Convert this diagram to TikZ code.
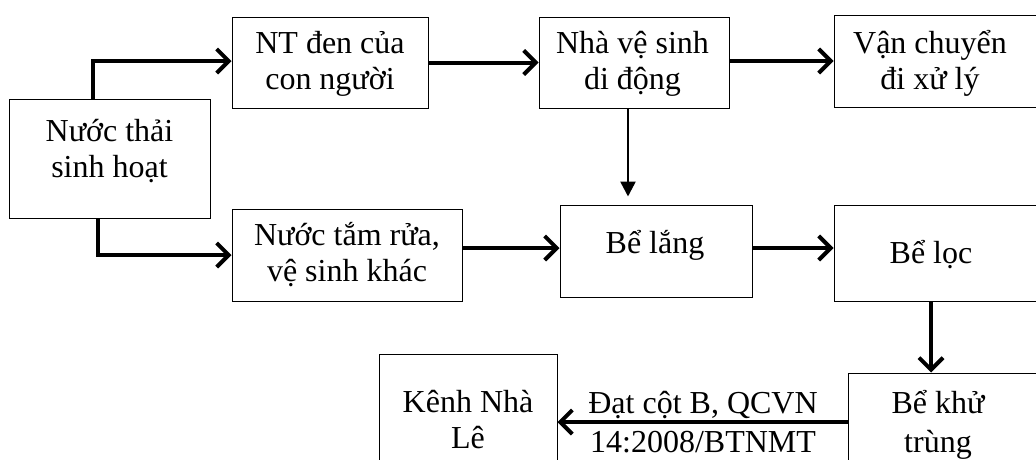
\documentclass[tikz,border=0pt]{standalone}
\usepackage{fontspec}
\setmainfont{Liberation Serif}
\usetikzlibrary{arrows.meta,calc}
\begin{document}
\begin{tikzpicture}[x=1pt,y=-1pt,
  box/.style={draw,line width=1pt,inner sep=0pt},
  txt/.style={align=center,font=\fontsize{32}{36}\selectfont,inner sep=0pt},
  flow/.style={line width=4pt,-{Straight Barb[length=12pt,width=24pt]}},
  thinflow/.style={line width=2.5pt,-{Triangle[length=15pt,width=15pt]}}]
\useasboundingbox (0,0) rectangle (1036,459);
\clip (0,0) rectangle (1036,459);
% boxes
\node[box,minimum width=201pt,minimum height=119pt] (src) at (109.5,158.5) {};
\node[box,minimum width=196pt,minimum height=91pt] (nt) at (330,62.5) {};
\node[box,minimum width=190pt,minimum height=91pt] (nvs) at (634,62.5) {};
\node[box,minimum width=211pt,minimum height=92pt] (vc) at (939.5,61) {};
\node[box,minimum width=230pt,minimum height=92pt] (nt2) at (347,255) {};
\node[box,minimum width=192pt,minimum height=92pt] (bl) at (656,251) {};
\node[box,minimum width=211pt,minimum height=96pt] (loc) at (939.5,253) {};
\node[box,minimum width=197pt,minimum height=107pt] (kt) at (946.5,426.5) {};
\node[box,minimum width=178pt,minimum height=126pt] (kenh) at (468,417) {};
% texts
\node[txt] (src-t) at (109.5,151) {Nước thải\\sinh hoạt};
\node[txt] (nt-t) at (330,64) {NT đen của\\con người};
\node[txt] (nvs-t) at (632.5,64) {Nhà vệ sinh\\di động};
\node[txt] (vc-t) at (930,63) {Vận chuyển\\đi xử lý};
\node[txt] (nt2-t) at (347,255) {Nước tắm rửa,\\vệ sinh khác};
\node[txt] (bl-t) at (655,245) {Bể lắng};
\node[txt] (loc-t) at (931,255) {Bể lọc};
\node[txt,font=\fontsize{32}{39}\selectfont] (kt-t) at (938,425) {Bể khử\\trùng};
\node[txt] (kenh-t) at (468,420) {Kênh Nhà\\Lê};
\node[txt,font=\fontsize{32}{39}\selectfont] (lab) at (703,422) {Đạt cột B, QCVN\\14:2008/BTNMT};
% connectors
\draw[flow] ([xshift=-16.5pt]src.north) |- ([yshift=1.5pt]nt.west);
\draw[flow] ([xshift=-11.5pt]src.south) |- (nt2.west);
\draw[flow] (nt.east) -- (nvs.west);
\draw[flow] ([yshift=1.5pt]nvs.east) -- ([yshift=1.5pt]nvs.east -| vc.west);
\draw[thinflow,shorten >=8pt] ([xshift=-6pt]nvs.south) -- ([xshift=-6pt]nvs.south |- bl.north);
\draw[flow] ([yshift=3pt]nt2.east |- bl.west) -- ([yshift=3pt]bl.west);
\draw[flow] ([yshift=3pt]bl.east) -- ([yshift=3pt]bl.east -| loc.west);
\draw[flow] (loc.south -| loc-t) -- (kt.north -| loc-t);
\draw[flow] (kt.west |- lab) -- (kenh.east |- lab);
\end{tikzpicture}
\end{document}
